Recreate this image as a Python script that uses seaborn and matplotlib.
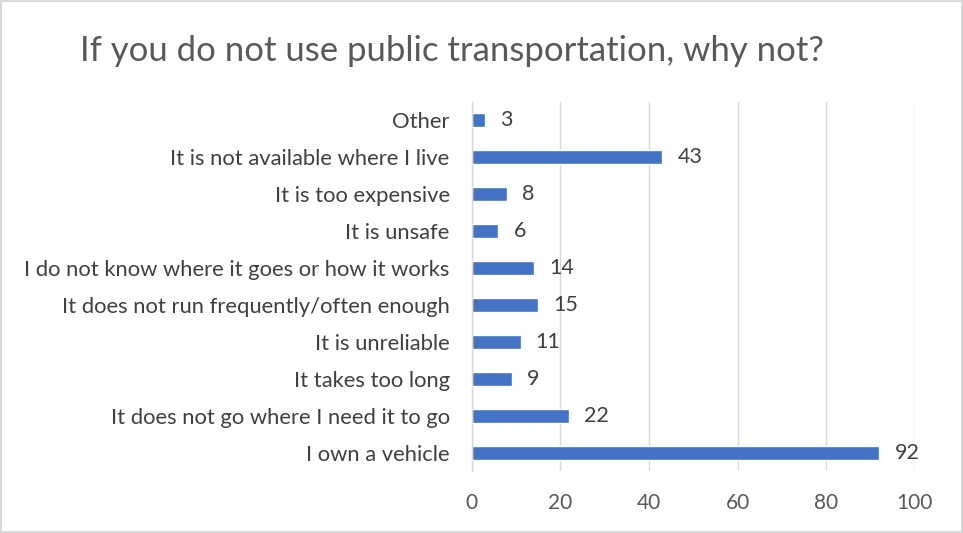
import matplotlib
matplotlib.use("Agg")
import matplotlib.pyplot as plt
import seaborn as sns
import pandas as pd

reasons = [
    "Other",
    "It is not available where I live",
    "It is too expensive",
    "It is unsafe",
    "I do not know where it goes or how it works",
    "It does not run frequently/often enough",
    "It is unreliable",
    "It takes too long",
    "It does not go where I need it to go",
    "I own a vehicle",
]
counts = [3, 43, 8, 6, 14, 15, 11, 9, 22, 92]
x_ticks = [0, 20, 40, 60, 80, 100]

df = pd.DataFrame({"reason": reasons, "count": counts})

sns.set_theme(style="white")
plt.rcParams["font.family"] = ["Lato", "DejaVu Sans"]

fig = plt.figure(figsize=(9.63, 5.33), dpi=100)
fig.patch.set_edgecolor("#D9D9D9")
fig.patch.set_linewidth(1.5)
ax = fig.add_axes([0.490, 0.116, 0.460, 0.693])

sns.barplot(data=df, y="reason", x="count", orient="h", color="#4472C4",
            width=0.38, saturation=1, ax=ax)

for i, v in enumerate(counts):
    ax.text(v + 3.4, i, str(v), va="center", ha="left", fontsize=15.5, color="#404040")

ax.set_xlim(0, 100)
ax.set_xticks(x_ticks)
ax.set_xticklabels([str(t) for t in x_ticks], fontsize=15, color="#595959")
ax.tick_params(axis="y", labelsize=15.8, labelcolor="#404040", length=0, pad=16)
ax.tick_params(axis="x", length=0, pad=16)
ax.set_xlabel("")
ax.set_ylabel("")
ax.grid(axis="x", color="#D9D9D9", linewidth=1)
ax.set_axisbelow(True)
for s in ["top", "right", "bottom"]:
    ax.spines[s].set_visible(False)
ax.spines["left"].set_color("#D9D9D9")
ax.spines["left"].set_linewidth(1)

fig.text(0.083, 0.905, "If you do not use public transportation, why not?",
         fontsize=25, color="#595959", va="center", ha="left")

fig.savefig("out.png", dpi=100, edgecolor=fig.get_edgecolor())
